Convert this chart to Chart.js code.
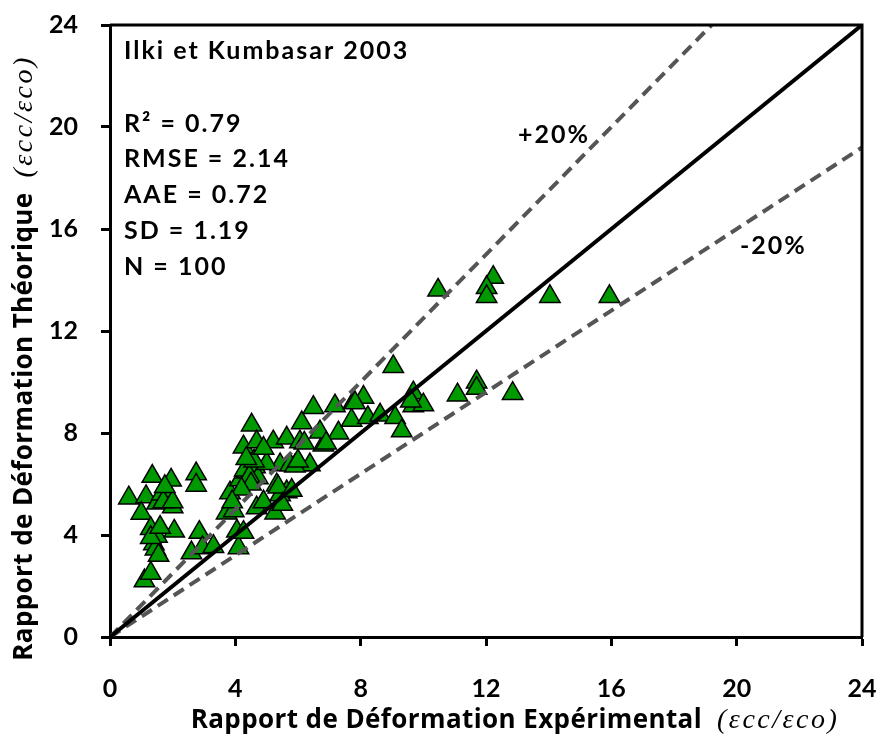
<!DOCTYPE html>
<html>
<head>
<meta charset="utf-8">
<script src="https://cdn.jsdelivr.net/npm/chart.js@4/dist/chart.umd.min.js"></script>
<style>
  html, body { margin: 0; background: #fff; }
</style>
</head>
<body>
<canvas id="chart" width="884" height="742"></canvas>
<script>
// strain ratio eps_cc/eps_co : experimental vs. Ilki & Kumbasar (2003) model
const experimental = [
  0.6, 1.15, 1.0, 1.35, 1.5, 1.65, 1.8, 1.95, 1.9, 2.0,
  1.3, 1.5, 2.05, 1.4, 1.45, 1.55, 1.1, 1.3, 2.75, 2.75,
  2.85, 2.6, 2.95, 3.3, 1.3, 1.7, 3.72, 3.83, 3.95, 4.05,
  4.1, 4.15, 4.26, 4.36, 4.63, 4.72, 4.52, 4.68, 4.68, 4.26,
  4.3, 4.45, 5.21, 5.64, 5.32, 5.64, 5.43, 5.27, 5.37, 5.43,
  5.75, 6.06, 6.38, 6.06, 6.12, 6.49, 6.81, 6.7, 7.29, 7.18,
  7.71, 7.77, 8.09, 8.23, 8.62, 9.1, 9.31, 9.68, 9.68, 10.0,
  9.6, 9.04, 7.82, 4.9, 5.0, 4.5, 5.8, 4.2, 10.47, 12.23,
  12.02, 12.02, 14.04, 15.94, 11.7, 11.7, 12.85, 11.09, 3.9, 4.6,
  5.9, 6.2, 6.9, 1.6, 2.0, 4.9, 5.5, 6.0, 1.75, 4.35
];
const theoretical = [
  5.45, 5.5, 4.85, 6.3, 5.25, 5.6, 5.45, 6.15, 5.5, 5.1,
  4.25, 3.95, 4.15, 3.65, 3.45, 3.2, 2.2, 2.5, 6.4, 5.95,
  4.1, 3.3, 3.5, 3.55, 3.9, 5.3, 4.86, 5.65, 4.95, 4.15,
  3.5, 6.16, 7.45, 6.47, 6.67, 6.24, 8.31, 7.65, 5.06, 4.1,
  6.55, 6.3, 7.65, 7.8, 5.96, 5.69, 5.57, 4.86, 5.88, 6.75,
  6.75, 6.75, 6.75, 7.65, 8.4, 9.0, 7.53, 8.04, 8.0, 9.06,
  8.5, 9.2, 9.4, 8.6, 8.7, 8.6, 8.08, 9.57, 9.06, 9.1,
  9.25, 10.6, 9.18, 5.3, 6.8, 6.0, 5.75, 5.8, 13.6, 14.1,
  13.7, 13.35, 13.35, 13.35, 10.0, 9.75, 9.55, 9.49, 5.3, 6.9,
  6.7, 7.6, 7.6, 4.3, 5.3, 7.4, 5.2, 6.9, 5.9, 7.0
];

// reference lines: equality and +/-20 % bounds
const lineEqual = [{ x: 0, y: 0 }, { x: 24, y: 24 }];
const linePlus20 = [{ x: 0, y: 0 }, { x: 19.2, y: 24 }];
const lineMinus20 = [{ x: 0, y: 0 }, { x: 24, y: 19.2 }];

const axisTicks = [0, 4, 8, 12, 16, 20, 24];

const statsTitle = 'Ilki et Kumbasar 2003';
const statsLines = ['R² = 0.79', 'RMSE = 2.14', 'AAE = 0.72', 'SD = 1.19', 'N = 100'];

const points = experimental.map((x, i) => ({ x, y: theoretical[i] }));

const FONT = 'Lato, "Open Sans", sans-serif';
const TITLE_FONT = '"Open Sans", sans-serif';
const UNIT_FONT = '"Liberation Serif", serif';

// draws "bold text  (italic unit)" centred on (0, 0)
function mixedTitle(ctx, text, unit) {
  ctx.font = 'bold 26px ' + TITLE_FONT;
  ctx.letterSpacing = '0.4px';
  const w1 = ctx.measureText(text).width + 15;
  ctx.font = 'italic 28px ' + UNIT_FONT;
  ctx.letterSpacing = '2.5px';
  const w2 = ctx.measureText(unit).width;
  const x0 = -(w1 + w2) / 2;
  ctx.fillText(unit, x0 + w1, 0);
  ctx.font = 'bold 26px ' + TITLE_FONT;
  ctx.letterSpacing = '0.4px';
  ctx.fillText(text, x0, 0);
}

// frame, annotations and mixed-style axis titles
const decor = {
  id: 'decor',
  afterDraw(chart) {
    const { ctx, chartArea: a } = chart;
    ctx.save();
    ctx.strokeStyle = '#000';
    ctx.lineWidth = 3;
    ctx.beginPath();
    ctx.moveTo(a.left, a.top);
    ctx.lineTo(a.right, a.top);
    ctx.lineTo(a.right, a.bottom);
    ctx.stroke();

    ctx.fillStyle = '#000';
    ctx.textBaseline = 'middle';
    ctx.textAlign = 'left';
    ctx.font = 'bold 25px ' + FONT;
    ctx.letterSpacing = '2px';
    ctx.fillText(statsTitle, 124, 51);
    const ys = [124, 159, 195, 231, 267];
    statsLines.forEach((t, i) => ctx.fillText(t, 124, ys[i]));
    ctx.fillText('+20%', 518, 135);
    ctx.fillText('-20%', 740, 246);

    ctx.save();
    ctx.translate(515, 721);
    mixedTitle(ctx, 'Rapport de Déformation Expérimental', '(εcc/εco)');
    ctx.restore();

    ctx.translate(25, 358);
    ctx.rotate(-Math.PI / 2);
    mixedTitle(ctx, 'Rapport de Déformation Théorique', '(εcc/εco)');
    ctx.restore();
  }
};

function axis(horizontal, fitSize, pad) {
  return {
    type: 'linear',
    min: 0,
    max: 24,
    afterBuildTicks: s => { s.ticks = axisTicks.map(v => ({ value: v })); },
    afterFit: s => {
      if (horizontal) {
        s.height = fitSize;
        s.paddingLeft = 0;
        s.paddingRight = 0;
      } else {
        s.width = fitSize;
        s.paddingTop = 0;
        s.paddingBottom = 0;
      }
    },
    ticks: {
      color: '#000',
      padding: pad,
      font: { family: FONT, size: 25, weight: 'bold' }
    },
    grid: {
      drawOnChartArea: false,
      tickLength: 9,
      tickWidth: 3,
      tickColor: '#000'
    },
    border: { color: '#000', width: 3 }
  };
}

new Chart(document.getElementById('chart'), {
  type: 'scatter',
  data: {
    datasets: [
      {
        type: 'line', data: lineEqual, order: 0,
        borderColor: '#000', borderWidth: 4, pointRadius: 0
      },
      {
        type: 'line', data: linePlus20, order: 0,
        borderColor: '#555', borderWidth: 4, borderDash: [12, 7], pointRadius: 0
      },
      {
        type: 'line', data: lineMinus20, order: 0,
        borderColor: '#555', borderWidth: 4, borderDash: [12, 7], pointRadius: 0
      },
      {
        data: points, order: 1,
        pointStyle: 'triangle', pointRadius: 11.8,
        backgroundColor: '#009a00', borderColor: '#000', borderWidth: 1.5
      }
    ]
  },
  options: {
    responsive: false,
    animation: false,
    layout: { padding: { top: 25, right: 22, left: 0, bottom: 0 } },
    plugins: { legend: { display: false }, tooltip: { enabled: false } },
    scales: {
      x: axis(true, 105, 28),
      y: axis(false, 110, 23)
    }
  },
  plugins: [decor]
});
</script>
</body>
</html>
